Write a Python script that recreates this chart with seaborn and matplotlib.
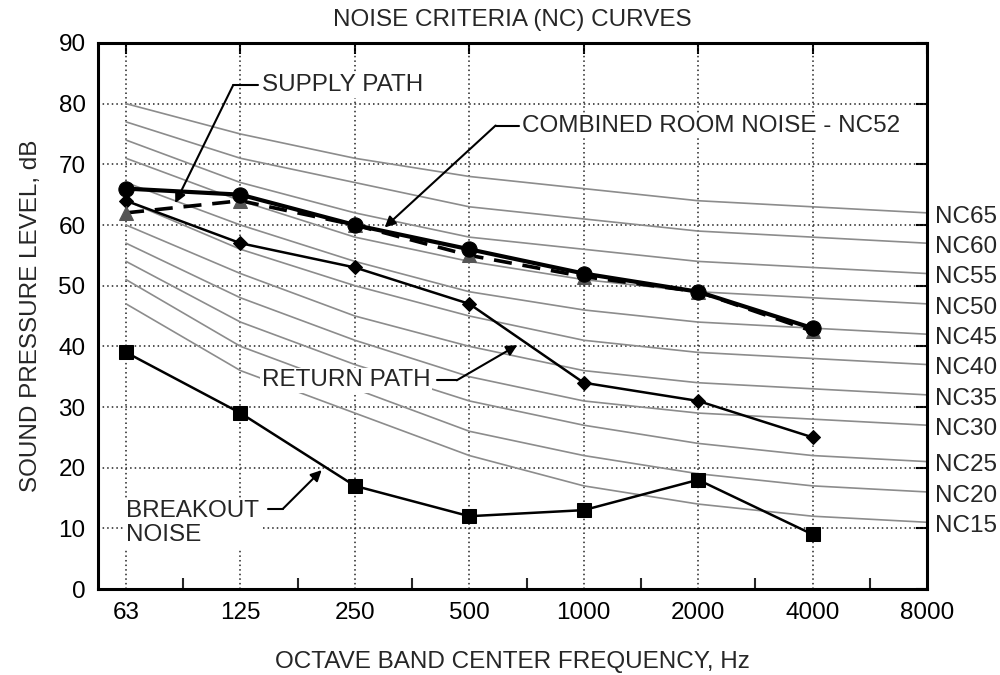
import numpy as np
import matplotlib
matplotlib.use("Agg")
import matplotlib.pyplot as plt
import seaborn as sns

# octave band centre frequencies (Hz)
freqs = [63, 125, 250, 500, 1000, 2000, 4000, 8000]

# NC reference curves, dB at each octave band
nc15 = [47, 36, 29, 22, 17, 14, 12, 11]
nc20 = [51, 40, 33, 26, 22, 19, 17, 16]
nc25 = [54, 44, 37, 31, 27, 24, 22, 21]
nc30 = [57, 48, 41, 35, 31, 29, 28, 27]
nc35 = [60, 52, 45, 40, 36, 34, 33, 32]
nc40 = [64, 56, 50, 45, 41, 39, 38, 37]
nc45 = [67, 60, 54, 49, 46, 44, 43, 42]
nc50 = [71, 64, 58, 54, 51, 49, 48, 47]
nc55 = [74, 67, 62, 58, 56, 54, 53, 52]
nc60 = [77, 71, 67, 63, 61, 59, 58, 57]
nc65 = [80, 75, 71, 68, 66, 64, 63, 62]
nc_names = ["NC15", "NC20", "NC25", "NC30", "NC35", "NC40",
            "NC45", "NC50", "NC55", "NC60", "NC65"]

# measured / calculated paths (63 .. 4000 Hz)
combined = [66, 65, 60, 56, 52, 49, 43]
supply = [62, 64, 60, 55, 51.5, 49, 42.5]
return_path = [64, 57, 53, 47, 34, 31, 25]
breakout = [39, 29, 17, 12, 13, 18, 9]

sns.set_style("white")
plt.rcParams["font.family"] = ["Liberation Sans", "DejaVu Sans"]
plt.rcParams["font.size"] = 17.5

fig = plt.figure(figsize=(10, 6.75), dpi=100)
ax = fig.add_axes([0.098, 0.1274, 0.829, 0.8089])

xpos = np.arange(len(freqs))
xdat = xpos[:len(combined)]

# grey NC curves
for vals, name in zip([nc15, nc20, nc25, nc30, nc35, nc40, nc45, nc50, nc55, nc60, nc65], nc_names):
    sns.lineplot(x=xpos, y=vals, color="#8c8c8c", lw=1.2, ax=ax, zorder=2)
    ax.text(7.07, vals[-1] - 0.6, name, ha="left", va="center", clip_on=False)

sns.lineplot(x=xdat, y=breakout, color="black", lw=1.8, marker="s", markersize=9.5,
             mec="black", mfc="black", ax=ax, zorder=5)
sns.lineplot(x=xdat, y=return_path, color="black", lw=1.8, marker="D", markersize=7,
             mec="black", mfc="black", ax=ax, zorder=5)
sns.lineplot(x=xdat, y=supply, color="black", lw=2.6, linestyle=(0, (5, 3)), marker="^",
             markersize=9.5, mec="#555555", mfc="#555555", ax=ax, zorder=6)
sns.lineplot(x=xdat, y=combined, color="black", lw=3, marker="o", markersize=11,
             mec="black", mfc="black", ax=ax, zorder=7)

# axes, ticks, grid
ax.set_xlim(-0.245, 7)
ax.set_ylim(0, 90)
ax.set_xticks(xpos)
ax.set_xticklabels([str(f) for f in freqs])
ax.set_xticks(xpos[:-1] + 0.5, minor=True)
ax.set_yticks(np.arange(0, 91, 10))
ax.tick_params(axis="both", which="major", direction="in", length=8, width=1.5,
               top=True, right=True, pad=9, colors="black")
ax.tick_params(axis="x", which="minor", direction="in", length=8, width=1.5, bottom=True)
for v in xpos[:-1]:
    ax.axvline(v, color="#222222", ls=(0, (1, 2)), lw=1.1, zorder=1)
for v in range(10, 90, 10):
    ax.axhline(v, color="#222222", ls=(0, (1, 2)), lw=1.1, zorder=1)
for s in ax.spines.values():
    s.set_linewidth(2.2)
    s.set_color("black")

ax.set_title("NOISE CRITERIA (NC) CURVES", fontsize=17.5, pad=12)
ax.set_xlabel("OCTAVE BAND CENTER FREQUENCY, Hz", fontsize=17.5, labelpad=20)
ax.set_ylabel("SOUND PRESSURE LEVEL, dB", fontsize=17.5, labelpad=12)

# callouts
box = dict(facecolor="white", edgecolor="none", pad=1)
arrow = dict(arrowstyle="-|>", color="black", lw=1.5, mutation_scale=16, shrinkA=0, shrinkB=0)

ax.text(1.19, 83, "SUPPLY PATH", ha="left", va="center", bbox=box, zorder=8)
ax.plot([0.935, 1.15], [83, 83], color="black", lw=1.5, zorder=8)
ax.annotate("", xy=(0.43, 63.6), xytext=(0.935, 83), arrowprops=arrow, zorder=8)

ax.text(3.46, 76.4, "COMBINED ROOM NOISE - NC52", ha="left", va="center", bbox=box, zorder=8)
ax.plot([3.23, 3.43], [76.4, 76.4], color="black", lw=1.5, zorder=8)
ax.annotate("", xy=(2.26, 59.6), xytext=(3.23, 76.4), arrowprops=arrow, zorder=8)

ax.text(2.66, 34.4, "RETURN PATH", ha="right", va="center", bbox=box, zorder=8)
ax.plot([2.72, 2.89], [34.4, 34.4], color="black", lw=1.5, zorder=8)
ax.annotate("", xy=(3.42, 40.2), xytext=(2.89, 34.4), arrowprops=arrow, zorder=8)

ax.text(0.0, 10.9, "BREAKOUT\nNOISE", ha="left", va="center", linespacing=1.15,
        bbox=box, zorder=8)
ax.plot([1.24, 1.37], [13.2, 13.2], color="black", lw=1.5, zorder=8)
ax.annotate("", xy=(1.71, 19.6), xytext=(1.37, 13.2), arrowprops=arrow, zorder=8)

fig.savefig("out.png", dpi=100)
